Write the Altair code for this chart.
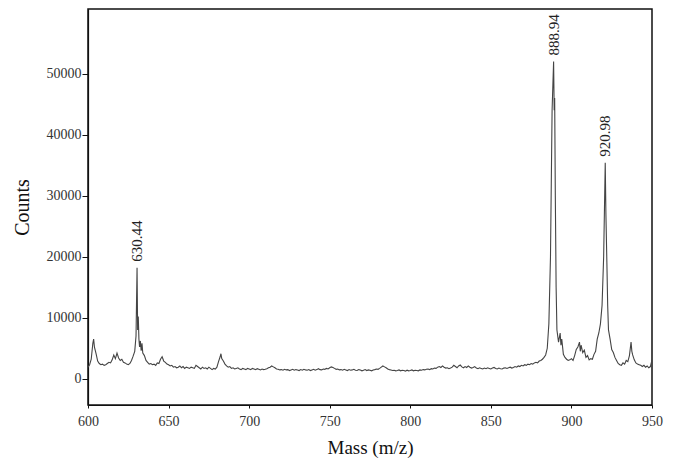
import altair as alt
import pandas as pd

mz = [
    600, 601, 602, 603, 603.5, 604, 605, 606, 607, 608, 609, 610, 611, 612, 613, 614, 615, 616, 617, 618, 619,
    620, 621, 622, 623, 624, 625, 626, 627, 628, 629, 629.8, 630.44, 630.8, 631.2, 631.6, 632, 632.5, 633, 633.5,
    634, 635, 636, 637, 638, 639, 640, 641, 642, 643, 644, 645, 646, 647, 648, 649,
    650, 651, 652, 653, 654, 655, 656, 657, 658, 659, 660, 661, 662, 663, 664, 665, 666, 667, 668, 669,
    670, 671, 672, 673, 674, 675, 676, 677, 678, 679, 680, 681, 682, 682.5, 683, 684, 685, 686, 687, 688, 689,
    690, 691, 692, 693, 694, 695, 696, 697, 698, 699,
    700, 701, 702, 703, 704, 705, 706, 707, 708, 709, 710, 711, 712, 713, 714, 715, 716, 717, 718, 719,
    720, 721, 722, 723, 724, 725, 726, 727, 728, 729, 730, 731, 732, 733, 734, 735, 736, 737, 738, 739,
    740, 741, 742, 743, 744, 745, 746, 747, 748, 749, 750, 751, 752, 753, 754, 755, 756, 757, 758, 759,
    760, 761, 762, 763, 764, 765, 766, 767, 768, 769, 770, 771, 772, 773, 774, 775, 776, 777, 778, 779,
    780, 781, 782, 783, 784, 785, 786, 787, 788, 789, 790, 791, 792, 793, 794, 795, 796, 797, 798, 799,
    800, 801, 802, 803, 804, 805, 806, 807, 808, 809, 810, 811, 812, 813, 814, 815, 816, 817, 818, 819,
    820, 821, 822, 823, 824, 825, 826, 827, 828, 829, 830, 831, 832, 833, 834, 835, 836, 837, 838, 839,
    840, 841, 842, 843, 844, 845, 846, 847, 848, 849, 850, 851, 852, 853, 854, 855, 856, 857, 858, 859,
    860, 861, 862, 863, 864, 865, 866, 867, 868, 869, 870, 871, 872, 873, 874, 875, 876, 877, 878, 879,
    880, 881, 882, 883, 884, 885, 886, 887, 887.5, 888, 888.94, 889.3, 889.6, 890, 890.5, 891, 892, 893, 893.5, 894,
    895, 896, 897, 898, 899, 900, 901, 902, 903, 904, 905, 905.5, 906, 907, 908, 909, 910, 911, 912, 913,
    914, 915, 916, 917, 918, 919, 920, 920.98, 921.4, 922, 922.5, 923, 924, 925, 926, 927, 928, 929, 930,
    931, 932, 933, 934, 935, 936, 937, 937.5, 938, 939, 940, 941, 942, 943, 944, 945, 946, 947, 948, 949, 950,
]

counts = [
    1900, 2300, 3200, 5800, 6500, 5200, 4100, 2900, 2500, 2300, 2400, 2200, 2300, 2500, 2700, 2600, 3100, 3900, 3300, 4200, 3400,
    3000, 3200, 2700, 2600, 2400, 2300, 2500, 3000, 3700, 4500, 7000, 18200, 8000, 10200, 6500, 5200, 6200, 4600, 5800,
    4200, 3800, 3000, 2700, 2400, 2500, 2300, 2400, 2200, 2600, 2500, 3200, 3600, 2900, 2700, 2400,
    2300, 2100, 2200, 1900, 2000, 1800, 1900, 2100, 1800, 2000, 1700, 1900, 1800, 1700, 1900, 1800, 1700, 2200, 2000, 1800,
    1600, 1900, 1700, 1800, 1600, 1900, 1700, 1500, 1700, 1600, 1900, 2800, 3600, 4100, 3300, 2900, 2400, 2100, 1900, 2000, 1700,
    1800, 1600, 1700, 1800, 1600, 1500, 1700, 1600, 1500, 1700,
    1600, 1500, 1700, 1600, 1500, 1650, 1550, 1450, 1600, 1500, 1550, 1650, 1800, 1900, 2100, 1950, 1800, 1600, 1550, 1450,
    1500, 1400, 1550, 1450, 1500, 1350, 1450, 1550, 1400, 1500, 1450, 1350, 1500, 1400, 1550, 1450, 1400, 1500, 1350, 1450,
    1550, 1400, 1500, 1650, 1500, 1450, 1600, 1550, 1700, 1600, 1800, 1950, 1850, 1700, 1550, 1600, 1450, 1500, 1400, 1550,
    1450, 1350, 1500, 1400, 1450, 1550, 1400, 1350, 1500, 1450, 1300, 1400, 1500, 1350, 1450, 1400, 1300, 1450, 1500, 1600,
    1550, 1700, 1900, 2100, 1950, 1800, 1600, 1500, 1450, 1350, 1400, 1300, 1350, 1450, 1300, 1400, 1350, 1250, 1400, 1300,
    1350, 1450, 1300, 1400, 1350, 1300, 1450, 1400, 1500, 1450, 1550, 1600, 1500, 1650, 1600, 1750, 1700, 1900, 2000, 1850,
    2100, 1900, 1750, 1800, 1650, 1750, 1900, 2200, 2000, 1800, 2100, 2250, 1950, 1800, 2000, 1850, 2100, 1900, 1750, 1850,
    2000, 1750, 1650, 1800, 1700, 1600, 1750, 1650, 1800, 1700, 1600, 1750, 1850, 1700, 1600, 1750, 1650, 1600, 1750, 1800,
    1700, 1800, 1900, 1750, 1850, 2000, 1900, 2100, 2000, 2200, 2100, 2300, 2200, 2400, 2300, 2500, 2400, 2600, 2700, 2600,
    2900, 3000, 3200, 3500, 3900, 5000, 9000, 20000, 32000, 44000, 52000, 44000, 46000, 30000, 15000, 8000, 6000, 7500, 5500, 6500,
    4000, 3500, 3200, 3000, 3100, 3300, 3000, 3800, 4800, 5200, 6000, 4500, 5500, 4300, 4700, 3500, 3800, 3100, 3300, 3200,
    4000, 4500, 6500, 7500, 9000, 12000, 20000, 35400, 27000, 19000, 12000, 8000, 6500, 4800, 4300, 3500, 3000, 2500, 2300,
    2200, 2600, 2400, 3000, 2800, 3800, 6000, 4500, 3900, 3100, 2600, 2400, 2300, 2200, 2000, 2200, 1900, 2100, 1800, 2000, 3100,
]

peak_mz = [630.44, 888.94, 920.98]
peak_counts = [18200, 52000, 35400]
peak_labels = ["630.44", "888.94", "920.98"]

y_ticks = [0, 10000, 20000, 30000, 40000, 50000]
x_ticks = [600, 650, 700, 750, 800, 850, 900, 950]

spec = pd.DataFrame({"mz": mz, "counts": counts})
peaks = pd.DataFrame({"mz": peak_mz, "counts": peak_counts, "label": peak_labels})

FONT = "Liberation Serif"

x_scale = alt.Scale(domain=[600, 950], nice=False, zero=False)
y_scale = alt.Scale(domain=[-4300, 60600], nice=False, zero=False)

line = alt.Chart(spec).mark_line(color="#444", strokeWidth=1.1, clip=True).encode(
    x=alt.X("mz:Q", scale=x_scale,
            axis=alt.Axis(title="Mass (m/z)", values=x_ticks, format="d", grid=False,
                          tickSize=3, labelPadding=6, titlePadding=10, labelFlush=False)),
    y=alt.Y("counts:Q", scale=y_scale,
            axis=alt.Axis(title="Counts", values=y_ticks, format="d", grid=False,
                          tickSize=6, labelPadding=1, titlePadding=14, labelFlush=False)),
)

labels = alt.Chart(peaks).mark_text(
    angle=270, align="left", baseline="middle", dx=6, font=FONT, fontSize=15, color="#222"
).encode(
    x=alt.X("mz:Q", scale=x_scale),
    y=alt.Y("counts:Q", scale=y_scale),
    text="label:N",
)

chart = (
    alt.layer(line, labels)
    .properties(
        width=564,
        height=396,
        autosize=alt.AutoSizeParams(type="none"),
        padding={"left": 80, "top": 1, "right": 20, "bottom": 60},
        background="white",
    )
    .configure_view(stroke="#111", strokeWidth=1.5)
    .configure_axis(
        labelFont=FONT, titleFont=FONT, labelFontSize=14, labelColor="#333",
        titleFontWeight="normal", titleColor="#111", domainColor="#111",
        tickColor="#111", domainWidth=1.2,
    )
    .configure_axisX(titleFontSize=19)
    .configure_axisY(titleFontSize=20)
)

chart.save("out.html", embed_options={"renderer": "svg", "actions": False})
